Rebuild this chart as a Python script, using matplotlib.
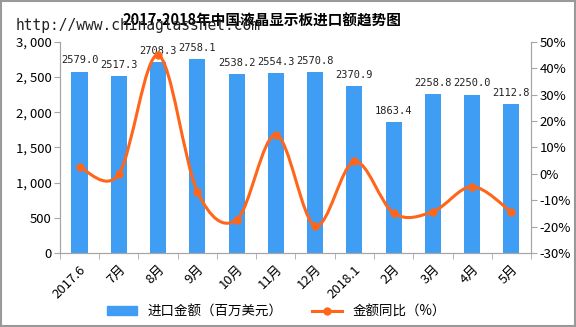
import numpy as np
import matplotlib
matplotlib.use("Agg")
import matplotlib.pyplot as plt
from matplotlib.path import Path
from matplotlib.patches import PathPatch, Rectangle
from matplotlib.lines import Line2D

plt.rcParams['font.family'] = ['Noto Sans CJK SC', 'DejaVu Sans']

# Data
months = ["2017.6", "7月", "8月", "9月", "10月", "11月", "12月",
          "2018.1", "2月", "3月", "4月", "5月"]
import_value = [2579.0, 2517.3, 2708.3, 2758.1, 2538.2, 2554.3, 2570.8,
                2370.9, 1863.4, 2258.8, 2250.0, 2112.8]
yoy_pct = [2.5, -0.1, 45.0, -6.7, -17.4, 14.8, -19.7, 4.7, -14.9, -14.3, -4.8, -14.5]

bar_color = "#3F9DF3"
line_color = "#FF661A"
axis_color = "#A6A6A6"

fig = plt.figure(figsize=(5.76, 3.27), dpi=100)
ax = fig.add_axes([0.104, 0.226, 0.818, 0.646])
ax2 = ax.twinx()

x = np.arange(len(months))
ax.bar(x, import_value, width=0.41, color=bar_color, zorder=2)

# value labels above bars
for xi, v in zip(x, import_value):
    ax.text(xi, v + 90, f"{v:.1f}", ha="center", va="bottom",
            fontsize=7.5, family="DejaVu Sans Mono", color="#222222")

ax.set_xlim(-0.5, len(months) - 0.5)
ax.set_ylim(0, 3000)
ax.set_yticks(range(0, 3001, 500))
ax.set_yticklabels([f"{v:,}".replace(",", ", ") for v in range(0, 3001, 500)],
                   fontsize=9.5)
ax.set_xticks(x)
ax.set_xticklabels(months, rotation=45, ha="right", rotation_mode="anchor",
                   fontsize=9.5)
ax.tick_params(axis="x", length=0, pad=7)
ax.set_xticks(np.arange(-0.5, len(months), 1), minor=True)
ax.tick_params(axis="x", which="minor", length=4, color=axis_color)
ax.tick_params(axis="y", length=4, color=axis_color, pad=2)

# smooth line on secondary axis (Catmull-Rom as Bezier)
pts = np.column_stack([x, yoy_pct]).astype(float)
verts = [tuple(pts[0])]
codes = [Path.MOVETO]
n = len(pts)
for i in range(n - 1):
    p0 = pts[max(i - 1, 0)]
    p1 = pts[i]
    p2 = pts[i + 1]
    p3 = pts[min(i + 2, n - 1)]
    c1 = p1 + (p2 - p0) / 6
    c2 = p2 - (p3 - p1) / 6
    verts += [tuple(c1), tuple(c2), tuple(p2)]
    codes += [Path.CURVE4, Path.CURVE4, Path.CURVE4]
ax2.add_patch(PathPatch(Path(verts, codes), facecolor="none",
                        edgecolor=line_color, lw=2.2, zorder=3))
ax2.plot(x, yoy_pct, "o", color=line_color, markersize=5, zorder=4)

ax2.set_ylim(-30, 50)
ax2.set_yticks(range(-30, 51, 10))
ax2.set_yticklabels([f"{v}%" for v in range(-30, 51, 10)], fontsize=9.5)
ax2.tick_params(axis="y", length=4, color=axis_color, pad=2)

for a in (ax, ax2):
    a.spines["top"].set_visible(False)
    for s in ("left", "right", "bottom"):
        a.spines[s].set_color(axis_color)

fig.text(0.455, 0.938, "2017-2018年中国液晶显示板进口额趋势图", ha="center",
         va="center", fontsize=10.5, fontweight="bold")
fig.text(0.027, 0.922, "http://www.chinaglassnet.com", ha="left", va="center",
         fontsize=10.5, family="DejaVu Sans Mono", color="#222222")

handles = [Rectangle((0, 0), 1, 1, color=bar_color),
           Line2D([], [], color=line_color, lw=2.2, marker="o", markersize=5)]
fig.legend(handles, ["进口金额（百万美元）", "金额同比（%）"],
           loc="center", bbox_to_anchor=(0.48, 0.048), ncol=2, frameon=False,
           fontsize=9.7, handlelength=2.2, columnspacing=2.2)

fig.patches.append(Rectangle((0.001, 0.002), 0.997, 0.995, transform=fig.transFigure,
                             fill=False, edgecolor="#999999", lw=1.5))

fig.savefig("out.png", dpi=100)
